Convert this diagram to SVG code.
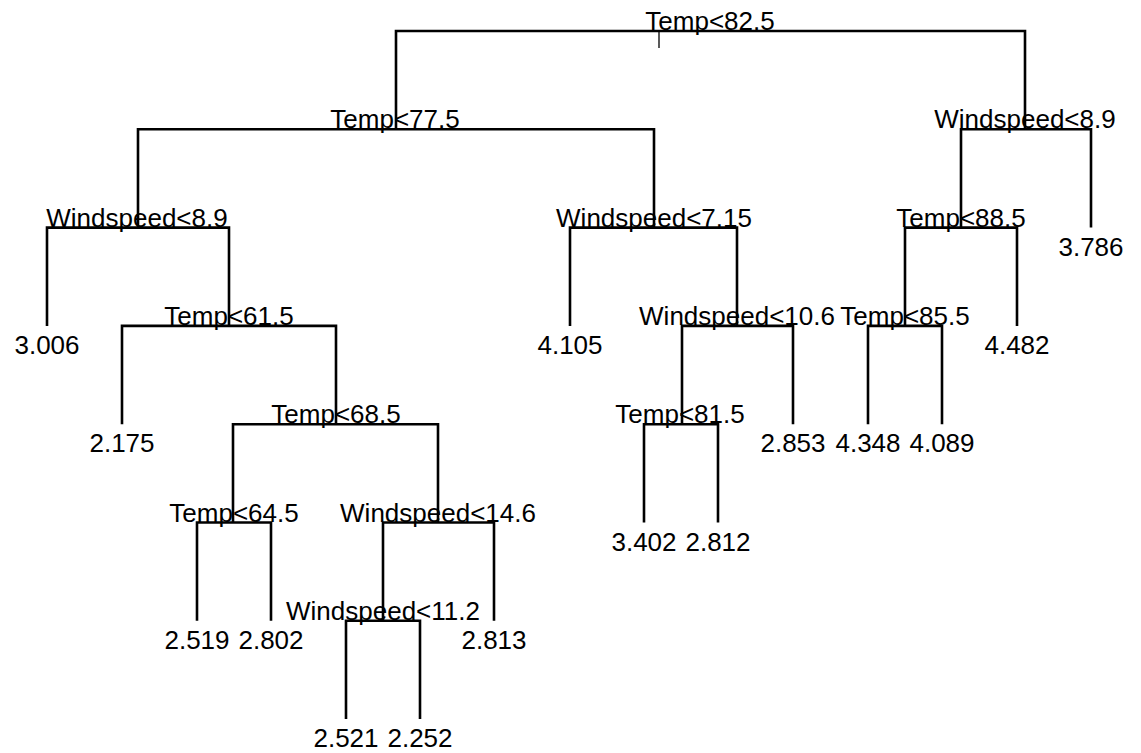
<svg xmlns="http://www.w3.org/2000/svg" width="1141" height="753" viewBox="0 0 1141 753">
  <style>
    .edge { fill: none; stroke: #000; stroke-width: 2.6; stroke-linecap: butt; stroke-linejoin: miter; }
    .tick { stroke: #000; stroke-width: 1.3; }
    text { font-family: "Liberation Sans", Arial, sans-serif; font-size: 26px; fill: #000; text-anchor: middle; }
  </style>
  <rect width="1141" height="753" fill="#fff"/>

  <!-- branches: each split is an inverted U joining its two children -->
  <g id="connectors">
    <line class="tick" x1="659" y1="31" x2="659" y2="48"/>
    <!-- root: Temp<82.5 -->
    <path class="edge" d="M396,129.3 V31 H1025 V129.3"/>
    <!-- Temp<77.5 -->
    <path class="edge" d="M138,227.6 V129.3 H654 V227.6"/>
    <!-- Windspeed<8.9 (left) -->
    <path class="edge" d="M47,325.9 V227.6 H229 V325.9"/>
    <!-- Temp<61.5 -->
    <path class="edge" d="M122,424.2 V325.9 H336 V424.2"/>
    <!-- Temp<68.5 -->
    <path class="edge" d="M233,522.5 V424.2 H438 V522.5"/>
    <!-- Temp<64.5 -->
    <path class="edge" d="M197,620.8 V522.5 H271 V620.8"/>
    <!-- Windspeed<14.6 -->
    <path class="edge" d="M383,620.8 V522.5 H494 V620.8"/>
    <!-- Windspeed<11.2 -->
    <path class="edge" d="M346,719.1 V620.8 H420 V719.1"/>
    <!-- Windspeed<7.15 -->
    <path class="edge" d="M570,325.9 V227.6 H737 V325.9"/>
    <!-- Windspeed<10.6 -->
    <path class="edge" d="M682,424.2 V325.9 H793 V424.2"/>
    <!-- Temp<81.5 -->
    <path class="edge" d="M644,522.5 V424.2 H718 V522.5"/>
    <!-- Windspeed<8.9 (right) -->
    <path class="edge" d="M961,227.6 V129.3 H1091 V227.6"/>
    <!-- Temp<88.5 -->
    <path class="edge" d="M905,325.9 V227.6 H1017 V325.9"/>
    <!-- Temp<85.5 -->
    <path class="edge" d="M868,424.2 V325.9 H942 V424.2"/>
  </g>

  <!-- split nodes -->
  <g id="n-root"><text x="710" y="30">Temp&lt;82.5</text></g>
  <g id="n-temp775"><text x="395" y="128.3">Temp&lt;77.5</text></g>
  <g id="n-wind89-left"><text x="137" y="226.6">Windspeed&lt;8.9</text></g>
  <g id="n-temp615"><text x="229" y="324.9">Temp&lt;61.5</text></g>
  <g id="n-temp685"><text x="336" y="423.2">Temp&lt;68.5</text></g>
  <g id="n-temp645"><text x="234" y="521.5">Temp&lt;64.5</text></g>
  <g id="n-wind146"><text x="438" y="521.5">Windspeed&lt;14.6</text></g>
  <g id="n-wind112"><text x="383" y="619.8">Windspeed&lt;11.2</text></g>
  <g id="n-wind715"><text x="654" y="226.6">Windspeed&lt;7.15</text></g>
  <g id="n-wind106"><text x="737" y="324.9">Windspeed&lt;10.6</text></g>
  <g id="n-temp815"><text x="680" y="423.2">Temp&lt;81.5</text></g>
  <g id="n-wind89-right"><text x="1025" y="128.3">Windspeed&lt;8.9</text></g>
  <g id="n-temp885"><text x="961" y="226.6">Temp&lt;88.5</text></g>
  <g id="n-temp855"><text x="905" y="324.9">Temp&lt;85.5</text></g>

  <!-- leaves -->
  <g id="leaf-3006"><text x="47" y="354">3.006</text></g>
  <g id="leaf-2175"><text x="122" y="452">2.175</text></g>
  <g id="leaf-2519"><text x="197" y="649">2.519</text></g>
  <g id="leaf-2802"><text x="271" y="649">2.802</text></g>
  <g id="leaf-2521"><text x="346" y="747">2.521</text></g>
  <g id="leaf-2252"><text x="420" y="747">2.252</text></g>
  <g id="leaf-2813"><text x="494" y="649">2.813</text></g>
  <g id="leaf-4105"><text x="570" y="354">4.105</text></g>
  <g id="leaf-2853"><text x="793" y="452">2.853</text></g>
  <g id="leaf-3402"><text x="644" y="550.5">3.402</text></g>
  <g id="leaf-2812"><text x="718" y="550.5">2.812</text></g>
  <g id="leaf-3786"><text x="1091" y="255.6">3.786</text></g>
  <g id="leaf-4482"><text x="1017" y="354">4.482</text></g>
  <g id="leaf-4348"><text x="868" y="452">4.348</text></g>
  <g id="leaf-4089"><text x="942" y="452">4.089</text></g>
</svg>
